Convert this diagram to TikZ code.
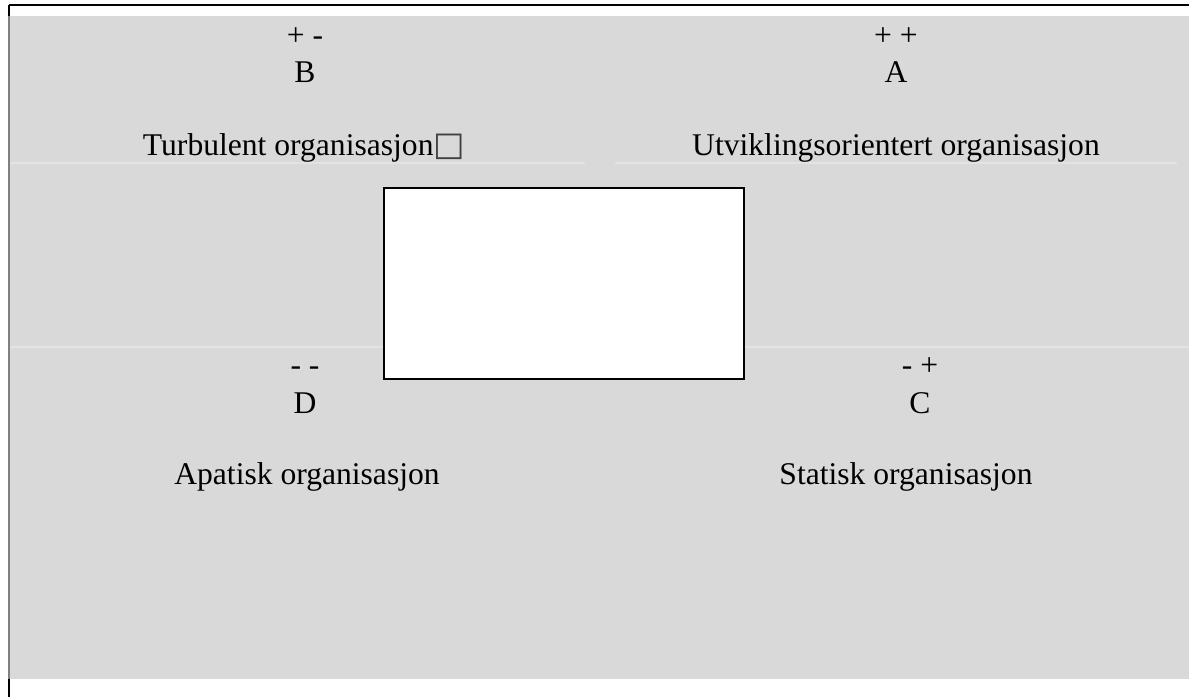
\documentclass[tikz,border=0pt]{standalone}
\usepackage{fontspec}
\setmainfont{Liberation Serif}
\newfontfamily\symfont{DejaVu Sans}
\usepackage{xcolor}
\usepackage{tikz}
\usetikzlibrary{positioning}

\definecolor{panelgray}{HTML}{D9D9D9}
\definecolor{seamgray}{HTML}{E3E3E3}

\begin{document}
\begin{tikzpicture}[x=0.75pt, y=-0.75pt, node distance={37pt},
    label/.style = {font=\fontsize{23.7}{28}\selectfont, inner sep=0pt, anchor=base},
    sign/.style  = {font=\fontsize{23.7}{28}\selectfont, inner sep=0pt, anchor=base},
    seam/.style  = {seamgray, line width=1pt}]
    \useasboundingbox (0,0) rectangle (1189,697);
    % background panel and frame
    \fill[panelgray] (9,16) rectangle (1189,679);
    \draw[seam] (9,163) -- (585,163);
    \draw[seam] (615,163) -- (1177,163);
    \draw[seam] (10,347) -- (384,347);
    \draw[seam] (744,347) -- (1189,347);
    \draw[line width=1.5pt] (9,5) -- (1189,5);
    \draw[line width=1.5pt] (9,5) -- (9,16);
    \draw[gray, line width=1pt] (9,16) -- (9,679);
    \draw[line width=1.5pt] (9,679) -- (9,697);
    % centre box
    \node[draw, fill=white, line width=1.2pt, minimum width=270pt, minimum height=143pt] (box) at (564,283.5) {};
    % quadrants
    \node[label] (B) at (305,82) {B};
    \node[sign]  (sB) at (305,45) {+ -};
    \node[label] (tB) at (304,155) {Turbulent organisasjon{\symfont\fontsize{25}{28}\selectfont\color{darkgray}□}};
    \node[label] (A) at (896,82) {A};
    \node[sign]  (sA) at (896,45) {+ +};
    \node[label] (tA) at (896,155) {Utviklingsorientert organisasjon};
    \node[label] (D) at (305,413) {D};
    \node[sign]  (sD) at (305,375) {- -};
    \node[label] (tD) at (307,484) {Apatisk organisasjon};
    \node[label] (C) at (920,413) {C};
    \node[sign]  (sC) at (920,375) {- +};
    \node[label] (tC) at (906,484) {Statisk organisasjon};
\end{tikzpicture}
\end{document}
